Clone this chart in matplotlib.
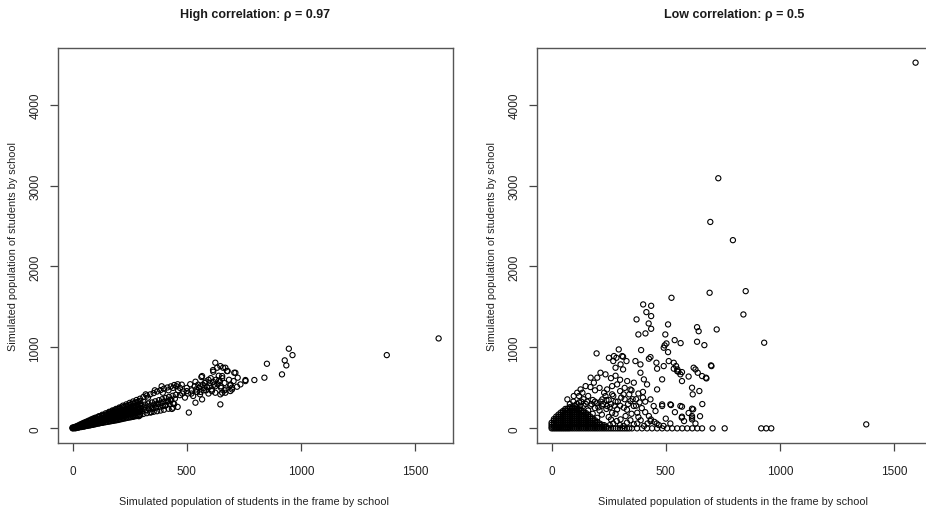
import numpy as np
import matplotlib.pyplot as plt

plt.rcParams['font.family'] = ['Liberation Sans', 'DejaVu Sans']

# ---------------- data ----------------
titles = ["High correlation: \u03c1 = 0.97", "Low correlation: \u03c1 = 0.5"]
xlab = "Simulated population of students in the frame by school"
ylab = "Simulated population of students by school"
xticks = [0, 500, 1000, 1500]
yticks = [0, 1000, 2000, 3000, 4000]

# high correlation: solid black part of the band (column by column)
hi_dense_x = [0, 0, 8, 8, 16, 16, 24, 24, 32, 32,
              40, 40, 40, 48, 48, 48, 56, 56, 56, 64, 64, 64, 72, 72, 72, 80, 80, 80,
              88, 88, 88, 88, 96, 96, 96, 96, 104, 104, 104, 104, 112, 112, 112, 112,
              120, 120, 120, 120, 128, 128, 128, 128, 136, 136, 136, 136, 144, 144, 144, 144, 152, 152, 152, 152,
              160, 160, 160, 160, 160, 168, 168, 168, 168, 168, 176, 176, 176, 176, 176, 184, 184, 184, 184, 184,
              192, 192, 192, 192, 192, 200, 200, 200, 200, 200, 208, 208, 208, 208, 208, 216, 216, 216, 216, 216,
              224, 224, 224, 224, 224, 232, 232, 232, 232, 232, 240, 240, 240, 240, 240, 248, 248, 248, 248, 248,
              256, 256, 256, 256, 256, 264, 264, 264, 264, 264, 272, 272, 272, 272, 272, 280, 280, 280, 280, 280,
              288, 288, 288, 288, 288, 296, 296, 296, 296, 296]
hi_dense_y = [0, 10, 4, 14, 8, 20, 12, 28, 16, 35,
              20, 42, 55, 24, 48, 62, 28, 52, 72, 32, 58, 80, 36, 62, 88, 40, 68, 95,
              45, 72, 98, 115, 50, 78, 105, 122, 55, 82, 110, 130, 60, 88, 115, 140,
              64, 92, 120, 148, 68, 96, 125, 155, 72, 100, 130, 162, 76, 104, 135, 170, 80, 110, 140, 175,
              84, 115, 145, 175, 195, 88, 120, 150, 182, 205, 92, 125, 155, 190, 212, 96, 130, 162, 198, 220,
              100, 135, 170, 205, 230, 104, 140, 175, 210, 240, 110, 145, 180, 218, 250, 115, 150, 185, 225, 258,
              120, 156, 192, 230, 265, 125, 162, 198, 238, 272, 130, 168, 205, 245, 280, 134, 172, 210, 250, 290,
              138, 178, 218, 258, 298, 142, 185, 225, 265, 305, 148, 190, 232, 272, 315, 152, 195, 240, 280, 322,
              158, 200, 245, 290, 330, 162, 206, 252, 298, 340]

# high correlation: strands along the diagonal
hi_core_x = [0, 10, 20, 30, 40, 50, 60, 70, 80, 90, 100, 115, 130, 145, 160, 175, 190, 205, 220, 235,
             250, 265, 280, 295, 310, 325, 340, 355, 370, 385, 400, 415, 430, 445, 460,
             5, 15, 25, 35, 45, 55, 65, 75, 85, 95, 108, 122, 138, 152, 168, 182, 198, 212, 228, 242,
             258, 272, 288, 302, 318, 332, 348, 362, 378, 392, 408, 422, 438, 452,
             3, 12, 22, 32, 42, 52, 62, 72, 82, 92, 104, 118, 132, 148, 162, 178, 192, 208, 222, 238,
             252, 268, 282, 298, 312, 328, 342, 358, 372, 388, 402, 418, 432, 448,
             8, 18, 28, 38, 48, 58, 68, 78, 88, 98, 110, 125, 140, 155, 170, 185, 200, 215, 230, 245,
             260, 275, 290, 305, 320, 335, 350, 365, 380, 395, 410, 425, 440,
             12, 25, 38, 50, 62, 75, 88, 100, 115, 130, 145, 160, 175, 190, 205, 220, 235, 250, 265, 280,
             295, 310, 325, 340, 355, 370, 385, 400, 420, 440, 460]
hi_core_y = [5, 18, 30, 44, 56, 70, 82, 95, 108, 120, 132, 150, 168, 186, 204, 222, 240, 258, 280, 296,
             315, 332, 350, 366, 388, 405, 420, 436, 455, 472, 490, 505, 518, 535, 545,
             6, 15, 24, 33, 43, 52, 61, 70, 80, 89, 100, 113, 128, 141, 155, 168, 183, 196, 210, 224,
             238, 251, 265, 278, 293, 306, 320, 334, 348, 360, 375, 388, 402, 415,
             2, 10, 18, 26, 34, 43, 51, 59, 67, 75, 85, 97, 108, 121, 133, 146, 157, 171, 182, 195,
             207, 220, 231, 244, 256, 269, 280, 294, 305, 318, 330, 343, 354, 367,
             6, 13, 20, 27, 34, 41, 48, 55, 62, 69, 77, 88, 98, 108, 119, 130, 140, 150, 161, 172,
             182, 192, 203, 214, 224, 234, 245, 256, 266, 276, 287, 298, 308,
             0, 8, 16, 22, 30, 38, 45, 52, 62, 72, 80, 90, 100, 110, 118, 128, 135, 145, 152, 160,
             170, 178, 188, 195, 205, 212, 220, 230, 242, 255, 265]

# high correlation: scattered tail
hi_tail_x = [290, 310, 330, 350, 360, 375, 390, 405, 420, 430, 440, 445, 320, 345, 365, 395, 415, 435,
             455, 462, 470, 478, 485, 492, 500, 505, 509, 515, 522, 528, 535, 538, 545, 552, 558, 564,
             570, 575, 582, 588, 595, 600, 605, 610, 616, 620, 625, 628, 633, 640, 645, 647, 647, 650,
             655, 659, 665, 670, 676, 685, 692, 698, 705, 713, 720, 723, 735, 757, 796, 840, 851, 917,
             929, 936, 947, 963, 1376, 1603,
             560, 580, 595, 615, 640, 625, 610, 585, 560, 540, 520, 500, 480, 470, 550, 575, 600, 635,
             650, 665, 690, 655, 625, 669, 691, 698, 647, 567, 538, 567, 615, 679, 669, 708, 655, 757]
hi_tail_y = [150, 330, 380, 250, 470, 300, 520, 280, 470, 350, 500, 300, 420, 200, 260, 440, 330, 240,
             520, 470, 410, 540, 455, 380, 500, 430, 195, 545, 470, 400, 520, 576, 450, 500, 420, 634,
             540, 470, 580, 510, 430, 560, 620, 480, 700, 540, 811, 600, 749, 650, 580, 769, 296, 520,
             620, 749, 560, 480, 708, 600, 540, 481, 584, 687, 514, 626, 543, 597, 597, 626, 798, 667,
             840, 778, 984, 905, 905, 1111,
             520, 560, 600, 575, 590, 520, 460, 470, 450, 480, 430, 460, 430, 500, 540, 500, 520, 545,
             500, 470, 530, 440, 440, 440, 461, 502, 420, 358, 317, 646, 720, 708, 749, 687, 646, 584]

# low correlation: schools with zero students in the population
lo_zero_x = [0, 8, 16, 24, 32, 40, 48, 56, 64, 72, 80, 90, 100, 110, 120, 130, 140, 150, 160, 170,
             180, 190, 200, 210, 220, 230, 240, 250, 260, 270, 280, 290, 300, 310, 320, 330, 340,
             352, 374, 396, 418, 440, 462, 484, 506, 528, 550, 572, 594, 616, 638, 659, 705, 758,
             918, 940, 962]
lo_zero_y = [0] * len(lo_zero_x)

# low correlation: solid black blob near the origin (column by column)
lo_blob_x = [0, 0, 0,
             10, 10, 10, 10, 10,
             20, 20, 20, 20, 20, 20,
             30, 30, 30, 30, 30, 30, 30,
             40, 40, 40, 40, 40, 40, 40, 40,
             50, 50, 50, 50, 50, 50, 50, 50, 50,
             60, 60, 60, 60, 60, 60, 60, 60, 60, 60,
             70, 70, 70, 70, 70, 70, 70, 70, 70, 70,
             80, 80, 80, 80, 80, 80, 80, 80, 80, 80, 80,
             90, 90, 90, 90, 90, 90, 90, 90, 90, 90, 90,
             100, 100, 100, 100, 100, 100, 100, 100, 100, 100,
             110, 110, 110, 110, 110, 110, 110, 110, 110, 110,
             120, 120, 120, 120, 120, 120, 120, 120, 120, 120,
             130, 130, 130, 130, 130, 130, 130, 130, 130,
             140, 140, 140, 140, 140, 140, 140, 140, 140,
             150, 150, 150, 150, 150, 150, 150, 150,
             160, 160, 160, 160, 160, 160, 160,
             170, 170, 170, 170, 170, 170,
             180, 180, 180, 180, 180,
             190, 190, 190, 190,
             200, 200, 200,
             210, 210, 210,
             220, 220,
             230, 230,
             240]
lo_blob_y = [20, 45, 70,
             20, 45, 70, 95, 115,
             20, 45, 70, 95, 120, 145,
             20, 45, 70, 95, 120, 145, 170,
             20, 45, 70, 95, 120, 145, 170, 195,
             20, 45, 70, 95, 120, 145, 170, 195, 215,
             20, 45, 70, 95, 120, 145, 170, 195, 220, 240,
             20, 45, 70, 95, 120, 145, 170, 195, 220, 245,
             20, 45, 70, 95, 120, 145, 170, 195, 220, 245, 262,
             20, 45, 70, 95, 120, 145, 170, 195, 220, 245, 258,
             20, 45, 70, 95, 120, 145, 170, 195, 220, 245,
             20, 45, 70, 95, 120, 145, 170, 195, 220, 240,
             20, 45, 70, 95, 120, 145, 170, 195, 220, 235,
             20, 45, 70, 95, 120, 145, 170, 195, 220,
             20, 45, 70, 95, 120, 145, 170, 195, 210,
             20, 45, 70, 95, 120, 145, 170, 190,
             20, 45, 70, 95, 120, 145, 170,
             20, 45, 70, 95, 120, 145,
             20, 45, 70, 95, 120,
             20, 45, 70, 100,
             20, 45, 80,
             20, 45, 60,
             20, 45,
             20, 40,
             20]

# low correlation: spread of the cone
lo_mid_x = [197, 251, 270, 284, 309, 328, 367, 389, 426, 459, 491, 513, 535, 550, 564, 571, 630, 640,
            659, 676, 698, 302, 313, 280, 214, 236, 200, 171, 185, 127, 149, 97, 69, 112, 243, 265,
            287, 331, 360, 389, 404, 418, 433, 447, 455, 426, 433, 484, 520, 564, 615, 615, 571, 615,
            345, 360, 316, 287, 375, 324, 302, 243, 265, 222, 236, 700, 678, 647, 622, 615, 618, 620,
            615, 571, 570, 523, 484, 484, 462, 462, 535, 545, 551, 555, 571, 600,
            130, 150, 170, 190, 210, 160, 180, 200, 220, 240, 260, 280, 300, 320, 340, 300, 270, 250,
            230, 210, 190, 170, 260, 280, 300, 320, 350, 380, 400, 370, 395, 410, 380, 350, 330, 280,
            250, 220, 200, 180, 160, 140, 120, 110,
            270, 300, 330, 360, 390, 420, 450, 470, 500, 520, 540, 580, 600, 630, 650, 660,
            110, 125, 140, 155, 175, 190, 205, 215, 225, 240, 255, 265, 275, 290, 305, 315, 335, 345,
            355, 370, 385, 400, 410, 120, 135, 95, 80, 100,
            255, 285, 315, 345, 375, 405, 435, 460, 490, 260]
lo_mid_y = [926, 872, 831, 872, 893, 831, 831, 790, 860, 811, 769, 831, 737, 707, 667, 695, 728, 687,
            646, 626, 778, 790, 728, 749, 687, 667, 626, 626, 564, 481, 522, 399, 358, 440, 481, 522,
            543, 584, 564, 687, 605, 543, 358, 276, 214, 152, 90, 296, 296, 276, 243, 152, 144, 111,
            337, 276, 255, 234, 193, 152, 111, 276, 193, 358, 399, 769, 617, 461, 749, 502, 420, 235,
            132, 268, 132, 288, 276, 605, 481, 737, 810, 770, 728, 700, 584, 640,
            330, 300, 280, 250, 220, 400, 350, 310, 280, 240, 300, 330, 280, 360, 420, 460, 400, 350,
            440, 500, 470, 510, 620, 650, 600, 500, 470, 430, 380, 360, 250, 200, 140, 180, 230, 180,
            140, 170, 130, 180, 220, 280, 320, 260,
            60, 40, 70, 50, 100, 60, 80, 40, 120, 60, 200, 90, 190, 60, 150, 300,
            300, 280, 360, 330, 300, 330, 260, 330, 300, 350, 260, 420, 280, 330, 380, 420, 300, 480,
            360, 280, 320, 450, 330, 400, 440, 330, 300, 280,
            40, 90, 30, 100, 60, 30, 110, 60, 30, 110]

# low correlation: upper outliers
lo_top_x = [1594, 730, 695, 794, 692, 850, 840, 525, 931, 723, 637, 644, 637, 669, 510, 498, 539, 565,
            495, 503, 491, 510, 401, 436, 415, 436, 372, 425, 436, 380, 411, 392, 294, 273, 313, 433,
            1378]
lo_top_y = [4518, 3090, 2550, 2325, 1675, 1695, 1407, 1613, 1058, 1222, 1250, 1200, 1070, 1028, 1284,
            1160, 1090, 1053, 1025, 1049, 996, 942, 1531, 1514, 1436, 1387, 1346, 1296, 1230, 1160,
            1173, 967, 975, 893, 885, 880, 49]

hi_x = hi_dense_x + hi_core_x + hi_tail_x
hi_y = hi_dense_y + hi_core_y + hi_tail_y
lo_x = lo_zero_x + lo_blob_x + lo_mid_x + lo_top_x
lo_y = lo_zero_y + lo_blob_y + lo_mid_y + lo_top_y

# ---------------- figure ----------------
fig = plt.figure(figsize=(9.26, 5.10), dpi=100)
W, H = 926, 510
boxes = [(58, 49, 453, 444), (537, 49, 932, 444)]
panels = [(hi_x, hi_y), (lo_x, lo_y)]

for i, (box, (xs, ys)) in enumerate(zip(boxes, panels)):
    l, t, r, b = box
    ax = fig.add_axes([l / W, 1 - b / H, (r - l) / W, (b - t) / H])
    ax.scatter(xs, ys, s=14, facecolors='none', edgecolors='black', linewidths=0.8, clip_on=False)
    ax.set_xlim(-64, 1666)
    ax.set_ylim(-181, 4699)
    ax.set_xticks(xticks)
    ax.set_yticks(yticks)
    ax.tick_params(axis='both', direction='out', length=6, width=0.9, colors='#444444',
                   labelsize=8.5, labelcolor='#222222')
    ax.tick_params(axis='x', pad=10)
    ax.tick_params(axis='y', pad=6)
    for lab in ax.get_yticklabels():
        lab.set_rotation(90)
        lab.set_va('center')
    for sp in ax.spines.values():
        sp.set_color('#555555')
        sp.set_linewidth(1.0)
    fig.text(((l + r) / 2) / W, 1 - 15 / H, titles[i], ha='center', va='center',
             fontsize=9, fontweight='bold', color='#1a1a1a')
    fig.text(((l + r) / 2 - 1) / W, 1 - 502 / H, xlab, ha='center', va='center',
             fontsize=7.8, color='#222222')
    fig.text((l - 45) / W, 1 - ((t + b) / 2) / H, ylab, ha='center', va='center',
             rotation=90, fontsize=7.8, color='#222222')

fig.savefig("out.png", dpi=100)
